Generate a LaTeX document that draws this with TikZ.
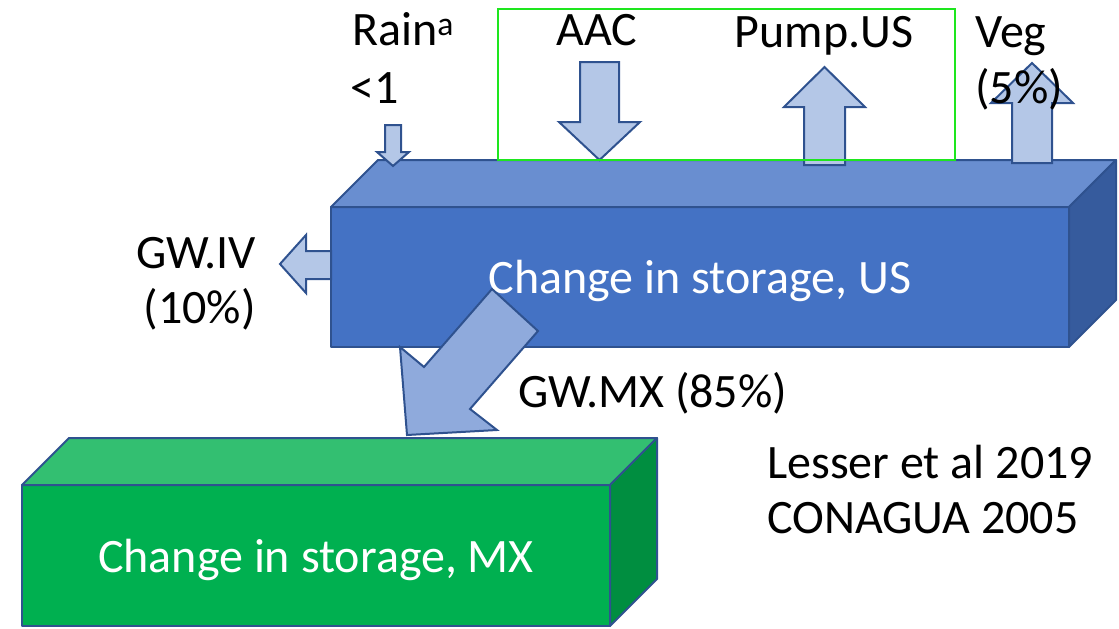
\documentclass[tikz,border=0pt]{standalone}
\usepackage{fontspec}
\setmainfont{Carlito}

\definecolor{edgeblue}{HTML}{2F528F}
\definecolor{usfront}{HTML}{4472C4}
\definecolor{ustop}{HTML}{698ED0}
\definecolor{usside}{HTML}{365B9D}
\definecolor{mxfront}{HTML}{00B050}
\definecolor{mxtop}{HTML}{33BF71}
\definecolor{mxside}{HTML}{008E40}
\definecolor{flowfill}{HTML}{B4C7E7}
\definecolor{mxflowfill}{HTML}{8FAADC}
\definecolor{boxgreen}{HTML}{1EE61E}

\tikzset{
  lbl/.style={inner sep=0pt, font=\fontsize{48}{57}\selectfont},
  face/.style={draw=edgeblue, line width=2pt, line join=round, outer sep=0pt, text depth=0pt},
  flow/.style={draw=edgeblue, fill=flowfill, line width=2pt, line join=miter},
}

\begin{document}
\begin{tikzpicture}[x=1pt, y=-1pt]
    \useasboundingbox (0,0) rectangle (1119,629);
    % US store: front face carries the label, then top and side
    \node[face, lbl, fill=usfront, text=white, minimum width=738pt, minimum height=140pt] (us) at (700,277) {Change in storage, US};
    \draw[face, fill=ustop] (us.north west) -- ++(47,-47) -- ++(738,0) -- (us.north east) -- cycle;
    \draw[face, fill=usside] (us.north east) -- ++(47,-47) -- ++(0,140) -- (us.south east) -- cycle;
    % fluxes in and out of the US store
    \draw[flow] (385,125) -- (401,125) -- (401,152) -- (409,152) -- (393,166) -- (377,152) -- (385,152) -- cycle;
    \draw[flow] (580,62) -- (619,62) -- (619,122) -- (640,122) -- (599.5,160) -- (559,122) -- (580,122) -- cycle;
    \draw[flow] (804,165) -- (845,165) -- (845,107) -- (865,107) -- (824.5,67) -- (784,107) -- (804,107) -- cycle;
    \draw[flow] (1012,163) -- (1052,163) -- (1052,103) -- (1073,103) -- (1032,63) -- (991,103) -- (1012,103) -- cycle;
    \draw[flow] (331,251) -- (306,251) -- (306,235) -- (280,264) -- (306,293) -- (306,279) -- (331,279) -- cycle;
    % MX store
    \node[face, lbl, fill=mxfront, text=white, minimum width=588pt, minimum height=141pt] (mx) at (316,555.5) {Change in storage, MX};
    \draw[face, fill=mxtop] (mx.north west) -- ++(47,-47) -- ++(588,0) -- (mx.north east) -- cycle;
    \draw[face, fill=mxside] (mx.north east) -- ++(47,-47) -- ++(0,141) -- (mx.south east) -- cycle;
    % groundwater flow from US to MX
    \draw[flow, fill=mxflowfill] (492,289) -- (538,331) -- (470,409) -- (497,430) -- (407,435) -- (400,347) -- (424,367) -- cycle;
    % inputs box
    \draw[boxgreen, line width=1.5pt] (498,9) rectangle (955,160);
    % labels
    \node[lbl, anchor=base west] (rain) at (352,45) {Rain\textsuperscript{a}};
    \node[lbl, anchor=base west] (rainval) at (350,103) {<1};
    \node[lbl, anchor=base] (aac) at (597,45) {AAC};
    \node[lbl, anchor=base] (pump) at (824,47) {Pump.US};
    \node[lbl, anchor=base west] (veg) at (975,47) {Veg};
    \node[lbl, anchor=base west] (vegval) at (975,103) {(5\%)};
    \node[lbl, anchor=base east] (gwiv) at (256,268) {GW.IV};
    \node[lbl, anchor=base east] (gwivval) at (256,323) {(10\%)};
    \node[lbl, anchor=base west] (gwmx) at (518,407) {GW.MX (85\%)};
    \node[lbl, anchor=base west] (lesser) at (767,478) {Lesser et al 2019};
    \node[lbl, anchor=base west] (conagua) at (767,533) {CONAGUA 2005};
\end{tikzpicture}
\end{document}
